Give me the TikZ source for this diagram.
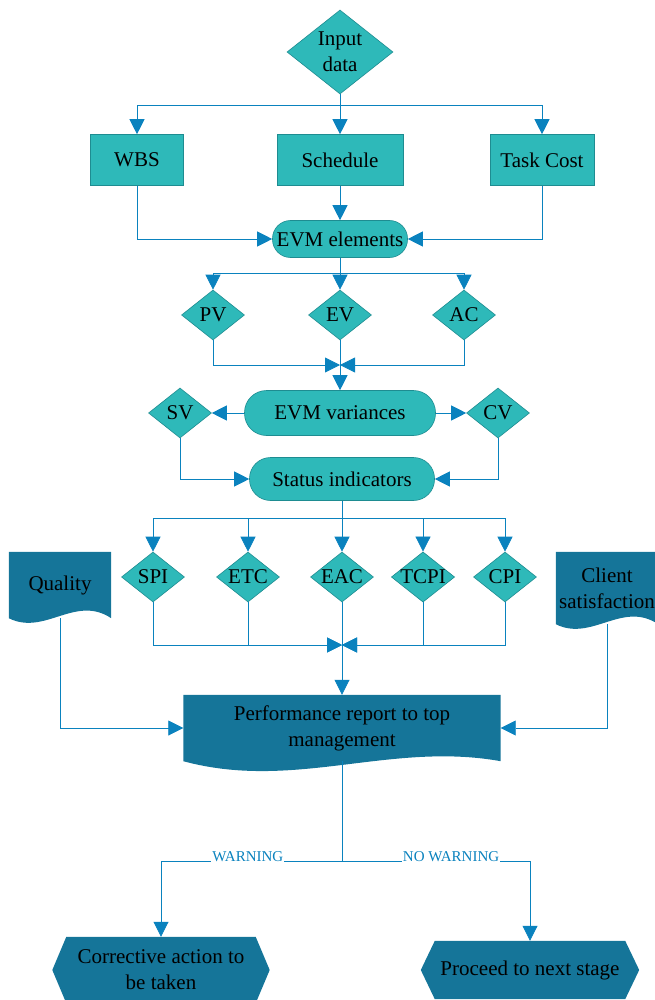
\documentclass[tikz,border=0pt]{standalone}
\usepackage{fontspec}
\setmainfont{Liberation Serif}
\usepackage{tikz}
\usetikzlibrary{shapes.geometric,calc,backgrounds}
\usetikzlibrary{arrows.meta}
\definecolor{acqua}{RGB}{46,185,185}
\definecolor{bordo}{RGB}{30,140,145}
\definecolor{scuro}{RGB}{21,117,153}
\definecolor{blu}{RGB}{10,130,190}
\tikzstyle{blocco} = [rectangle, minimum height=51pt, align=center, fill=acqua, draw=bordo, line width=0.6pt]
\tikzstyle{capsula} = [rectangle, rounded corners=18pt, inner sep=0pt, align=center, fill=acqua, draw=bordo, line width=0.6pt]
\tikzstyle{rombo} = [diamond, aspect=1.26, inner sep=0pt, minimum width=63pt, minimum height=50pt, align=center, fill=acqua, draw=bordo, line width=0.6pt]
\tikzstyle{documento} = [rectangle, inner sep=0pt, align=center]
\tikzstyle{esagono} = [rectangle, inner sep=0pt, align=center]
\tikzstyle{filo} = [draw=blu, line width=0.8pt]
\tikzstyle{arrow} = [filo, -{Triangle[length=15pt,width=15pt]}]
\tikzstyle{etichetta} = [font=\fontsize{15}{17}\selectfont, text=blu, fill=white, inner sep=1pt, anchor=base]
% fondo ondulato dei documenti
\newcommand{\ondina}[3]{%
  \begin{scope}[on background layer]
    \fill[scuro] (#1.north west) -- (#1.north east) -- (#1.south east)
      .. controls ($(#1.south east)!0.35!(#1.south west)+(0,-#2)$) and ($(#1.south east)!0.65!(#1.south west)+(0,#3)$) .. (#1.south west) -- cycle;
  \end{scope}}
% fondo esagonale
\newcommand{\punte}[1]{%
  \begin{scope}[on background layer]
    \fill[scuro] (#1.west) -- ($(#1.north west)+(14,0)$) -- ($(#1.north east)+(-14,0)$) -- (#1.east)
      -- ($(#1.south east)+(-14,0)$) -- ($(#1.south west)+(14,0)$) -- cycle;
  \end{scope}}
\begin{document}
\begin{tikzpicture}[x=1pt, y=-1pt, font=\fontsize{21}{26}\selectfont]
\useasboundingbox (0,0) rectangle (655,1000);
\node (input) at (340,52) [rombo, minimum width=106pt, minimum height=84pt] {Input\\data};
\node (wbs) at (137,160) [blocco, minimum width=93pt] {WBS};
\node (sched) at (340,160) [blocco, minimum width=126pt] {Schedule};
\node (cost) at (542,160) [blocco, minimum width=104pt] {Task Cost};
\node (evme) at (340,239) [capsula, minimum width=135pt, minimum height=37pt] {EVM elements};
\node (pv) at (213,315) [rombo] {PV};
\node (ev) at (340,315) [rombo] {EV};
\node (ac) at (464,315) [rombo] {AC};
\node (evmv) at (340,413) [capsula, rounded corners=22pt, minimum width=191pt, minimum height=45pt] {EVM variances};
\node (sv) at (180,413) [rombo] {SV};
\node (cv) at (498,413) [rombo] {CV};
\node (stat) at (342,479) [capsula, rounded corners=21pt, minimum width=185pt, minimum height=43pt] {Status indicators};
\node (spi) at (153,577) [rombo] {SPI};
\node (etc) at (248,577) [rombo] {ETC};
\node (eac) at (342,577) [rombo] {EAC};
\node (tcpi) at (423,577) [rombo] {TCPI};
\node (cpi) at (505,577) [rombo] {CPI};
\node (qual) at (60,585) [documento, minimum width=102pt, minimum height=66pt] {Quality};
\node (client) at (607,588) [documento, minimum width=102pt, minimum height=72pt] {Client\\satisfaction};
\node (perf) at (342,728) [documento, minimum width=317pt, minimum height=66pt] {Performance report to top\\management};
\node (corr) at (161,970) [esagono, minimum width=217pt, minimum height=66pt] {Corrective action to\\be taken};
\node (proc) at (530,970) [esagono, minimum width=218pt, minimum height=58pt] {Proceed to next stage};
\ondina{qual}{24}{18}
\ondina{client}{24}{18}
\ondina{perf}{20}{30}
\punte{corr}
\punte{proc}
% collegamenti
\coordinate (b1) at (340,105);
\draw[arrow] (input) -- (sched);
\draw[arrow] (b1) -| (wbs);
\draw[arrow] (b1) -| (cost);
\draw[arrow] (wbs) |- (evme);
\draw[arrow] (cost) |- (evme);
\draw[arrow] (sched) -- (evme);
\coordinate (b2) at (340,273);
\draw[arrow] (evme) -- (ev);
\draw[arrow] (b2) -| (pv);
\draw[arrow] (b2) -| (ac);
\coordinate (m1) at (340,365);
\draw[arrow] (pv) |- (m1);
\draw[arrow] (ac) |- (m1);
\draw[arrow] (ev) -- (evmv);
\draw[arrow] (evmv) -- (sv);
\draw[arrow] (evmv) -- (cv);
\draw[arrow] (sv) |- (stat);
\draw[arrow] (cv) |- (stat);
\coordinate (b3) at (342,518);
\draw[arrow] (stat) -- (eac);
\draw[arrow] (b3) -| (spi);
\draw[arrow] (b3) -| (etc);
\draw[arrow] (b3) -| (tcpi);
\draw[arrow] (b3) -| (cpi);
\coordinate (m2) at (342,645);
\draw[arrow] (spi) |- (m2);
\draw[arrow] (etc) |- (m2);
\draw[arrow] (tcpi) |- (m2);
\draw[arrow] (cpi) |- (m2);
\draw[arrow] (eac) -- (perf);
\draw[arrow] (qual) |- (perf);
\draw[arrow] (client) |- (perf);
\coordinate (b4) at (342,861);
\draw[filo] (perf) -- (b4);
\draw[arrow] (b4) -| node[etichetta, pos=0.26] {WARNING} (corr);
\draw[arrow] (b4) -| node[etichetta, pos=0.29] {NO WARNING} (proc);
\end{tikzpicture}
\end{document}
